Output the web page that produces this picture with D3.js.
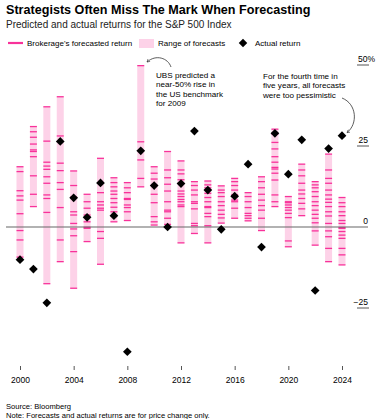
<!DOCTYPE html>
<html>
<head>
<meta charset="utf-8">
<script src="https://cdn.jsdelivr.net/npm/d3@7"></script>
<style>
  body { margin: 0; background: #fff; }
  text { font-family: "Liberation Sans", Arial, sans-serif; fill: #000; }
</style>
</head>
<body>
<div id="chart"></div>
<script>
// Data
const years = [2000, 2001, 2002, 2003, 2004, 2005, 2006, 2007, 2008, 2009, 2010, 2011, 2012,
  2013, 2014, 2015, 2016, 2017, 2018, 2019, 2020, 2021, 2022, 2023, 2024];

const actualReturn = [-10.1, -13.0, -23.4, 26.4, 9.0, 3.0, 13.6, 3.5, -38.5, 23.5, 12.8, 0.0, 13.4,
  29.6, 11.4, -0.7, 9.5, 19.4, -6.2, 28.9, 16.3, 26.9, -19.6, 24.2, 28.2];

const forecasts = [
  [18.6, 17.1, 11.2, 9.6, 8.3, 4.1, -1.1, -4.0, -9.3],
  [31.0, 29.4, 27.7, 25.6, 23.8, 23.3, 21.7, 15.8, 10.1, 6.3],
  [37.1, 26.5, 20.0, 18.8, 17.8, 15.5, 13.5, 9.9, 8.8, 4.5, -17.5],
  [40.2, 28.1, 19.7, 17.4, 13.7, 11.6, 6.0, -4.0, -10.7],
  [17.3, 12.8, 9.2, 4.7, 3.7, 1.1, -0.6, -2.7, -7.6, -18.9],
  [10.1, 7.8, 5.8, 3.7, 1.6, -0.1, -0.4, -4.5],
  [21.2, 10.6, 7.8, 6.8, 5.8, 5.2, -1.4, -3.5, -11.5],
  [15.2, 13.7, 12.4, 11.1, 10.1, 8.8, 7.5, 6.1, 4.7, 1.6],
  [13.7, 12.1, 10.6, 8.8, 8.5, 6.8, 6.0, 4.7, 2.0],
  [49.8, 26.3, 20.7, 15.0, 12.4],
  [18.6, 16.6, 14.8, 12.8, 10.1, 7.5, 3.2, 1.6, 0.6],
  [23.3, 17.6, 15.2, 13.2, 11.1, 7.8, 5.2, 4.7, 2.7, 0.8],
  [20.4, 17.6, 16.4, 14.6, 11.1, 10.2, 9.4, 8.5, 7.8, 6.8, 6.3, -4.9],
  [14.0, 12.8, 11.4, 9.9, 7.8, 7.3, 5.6, 1.1, 0.4, -2.0],
  [14.2, 13.0, 12.1, 10.4, 9.1, 7.8, 6.3, 6.0, 4.2, 3.2, 0.4, -4.9],
  [12.7, 11.4, 10.6, 9.4, 7.8, 6.6, 5.2, 3.9, 2.8, 1.2],
  [15.0, 14.0, 12.8, 11.4, 9.9, 8.3, 7.8, 5.8, 2.7],
  [10.6, 9.4, 7.8, 6.0, 4.2, 3.5, 2.7, 1.9],
  [15.5, 14.0, 12.1, 10.1, 8.3, 6.6, 5.2, 2.7, -1.1],
  [30.2, 28.7, 26.1, 24.1, 21.7, 20.0, 18.4, 17.9, 16.6, 14.5, 9.9, 7.8, 6.3],
  [9.4, 7.8, 7.5, 6.8, 6.0, 5.2, 4.2, 2.9, -4.3, -6.1],
  [19.4, 17.6, 15.8, 13.5, 11.4, 10.2, 8.8, 7.3, 5.6, 3.5],
  [14.0, 13.0, 12.1, 10.9, 9.4, 7.8, 6.6, 5.2, 3.9, 2.7, 1.3, -1.2, -5.6],
  [22.5, 17.6, 15.0, 13.5, 11.4, 9.9, 8.6, 7.6, 6.3, 4.7, 3.4, 1.1, -1.2, -3.0, -6.6, -10.7],
  [9.1, 7.5, 6.3, 4.7, 3.5, 2.0, 1.1, -0.2, -0.4, -1.4, -2.5, -3.5, -6.6, -8.6, -11.7]
];

const xTicks = [2000, 2004, 2008, 2012, 2016, 2020, 2024];
const yTicks = [50, 25, 0, -25];
const yTickLabels = ['50%', '25', '0', '\u221225'];

const ubsNote = ['UBS predicted a', 'near-50% rise in', 'the US benchmark', 'for 2009'];
const latestNote = ['For the fourth time in', 'five years, all forecasts', 'were too pessimistic'];

const pinkFill = '#fdd2e8';
const pinkLine = '#f8329a';

const width = 377, height = 419;

const svg = d3.select('#chart')
  .append('svg')
  .attr('width', width)
  .attr('height', height);

// Header
svg.append('text')
  .attr('x', 6).attr('y', 14)
  .style('font-size', '12.6px').style('font-weight', 'bold')
  .text('Strategists Often Miss The Mark When Forecasting');

svg.append('text')
  .attr('x', 6).attr('y', 27.5)
  .style('font-size', '10px').style('fill', '#222')
  .text('Predicted and actual returns for the S&P 500 Index');

// Legend
const legend = svg.append('g').style('font-size', '8px');
legend.append('line')
  .attr('x1', 8).attr('x2', 23).attr('y1', 43).attr('y2', 43)
  .attr('stroke', pinkLine).attr('stroke-width', 2.2);
legend.append('text').attr('x', 27).attr('y', 46).text("Brokerage's forecasted return");
legend.append('rect')
  .attr('x', 139).attr('y', 39).attr('width', 15).attr('height', 9)
  .attr('fill', pinkFill);
legend.append('text').attr('x', 158).attr('y', 46).text('Range of forecasts');
legend.append('path')
  .attr('d', d3.symbol(d3.symbolSquare, 36)())
  .attr('transform', 'translate(243,43) rotate(45)')
  .attr('fill', '#000');
legend.append('text').attr('x', 255).attr('y', 46).text('Actual return');

// Scales
const x = d3.scaleLinear().domain([2000, 2024]).range([20, 342]);
const y = d3.scaleLinear().domain([-50, 50]).range([389, 65]);
const barW = 7;

// y labels with short underline ticks (right side)
const yAxis = svg.append('g').style('font-size', '8.5px');
yTicks.forEach((v, i) => {
  if (v !== 0) {
    yAxis.append('line')
      .attr('x1', 357).attr('x2', 369)
      .attr('y1', y(v)).attr('y2', y(v))
      .attr('stroke', '#555').attr('stroke-width', 1);
  }
  yAxis.append('text')
    .attr('x', v === 50 ? 358 : 368)
    .attr('y', y(v) - 3)
    .attr('text-anchor', v === 50 ? 'start' : 'end')
    .text(yTickLabels[i]);
});

// Range bars
const rows = years.map((yr, i) => ({ year: yr, vals: forecasts[i], actual: actualReturn[i] }));

svg.append('g').selectAll('rect')
  .data(rows)
  .enter().append('rect')
  .attr('x', d => x(d.year) - barW / 2)
  .attr('width', barW)
  .attr('y', d => y(d3.max(d.vals)))
  .attr('height', d => y(d3.min(d.vals)) - y(d3.max(d.vals)))
  .attr('fill', pinkFill);

// Forecast ticks
const tickData = rows.flatMap(d => d.vals.map(v => ({ year: d.year, v })));
svg.append('g').selectAll('line')
  .data(tickData)
  .enter().append('line')
  .attr('x1', d => x(d.year) - barW / 2)
  .attr('x2', d => x(d.year) + barW / 2)
  .attr('y1', d => y(d.v))
  .attr('y2', d => y(d.v))
  .attr('stroke', pinkLine)
  .attr('stroke-width', 1.3);

// Zero line
svg.append('line')
  .attr('x1', 6).attr('x2', 368)
  .attr('y1', y(0)).attr('y2', y(0))
  .attr('stroke', '#666').attr('stroke-width', 1.2);

// Actual returns
svg.append('g').selectAll('path')
  .data(rows)
  .enter().append('path')
  .attr('d', d3.symbol(d3.symbolSquare, 38)())
  .attr('transform', d => `translate(${x(d.year)},${y(d.actual)}) rotate(45)`)
  .attr('fill', '#000');

// X axis
const xAxis = svg.append('g')
  .attr('transform', 'translate(0,366)')
  .call(d3.axisBottom(x).tickValues(xTicks).tickFormat(d3.format('d')).tickSize(4).tickPadding(7));
xAxis.select('.domain').remove();
xAxis.selectAll('line').attr('stroke', '#555');
xAxis.selectAll('text')
  .style('font-family', '"Liberation Sans", Arial, sans-serif')
  .style('font-size', '8.5px').attr('fill', '#000');

// Annotations
const ann = svg.append('g').style('font-size', '8.1px');
ubsNote.forEach((t, i) => {
  ann.append('text').attr('x', 156).attr('y', 78 + i * 9.4).text(t);
});
latestNote.forEach((t, i) => {
  ann.append('text').attr('x', 263).attr('y', 79 + i * 9.4).text(t);
});

svg.append('defs').append('marker')
  .attr('id', 'arrow')
  .attr('viewBox', '0 0 10 10')
  .attr('refX', 8).attr('refY', 5)
  .attr('markerWidth', 5).attr('markerHeight', 5)
  .attr('orient', 'auto-start-reverse')
  .append('path')
  .attr('d', 'M1,1 L8,5 L1,9')
  .attr('fill', 'none').attr('stroke', '#333').attr('stroke-width', 1.5);

svg.append('path')
  .attr('d', 'M171,67 C168,58 156,54 147,62')
  .attr('fill', 'none').attr('stroke', '#333').attr('stroke-width', 0.8)
  .attr('marker-end', 'url(#arrow)');

svg.append('path')
  .attr('d', `M342,98 C357,104 358,124 ${x(2024) + 5},${y(28.2) - 3}`)
  .attr('fill', 'none').attr('stroke', '#333').attr('stroke-width', 0.8)
  .attr('marker-end', 'url(#arrow)');

// Footer
const foot = svg.append('g').style('font-size', '7.6px');
foot.append('text').attr('x', 6).attr('y', 409).text('Source: Bloomberg');
foot.append('text').attr('x', 6).attr('y', 417.5)
  .text('Note: Forecasts and actual returns are for price change only.');
</script>
</body>
</html>
